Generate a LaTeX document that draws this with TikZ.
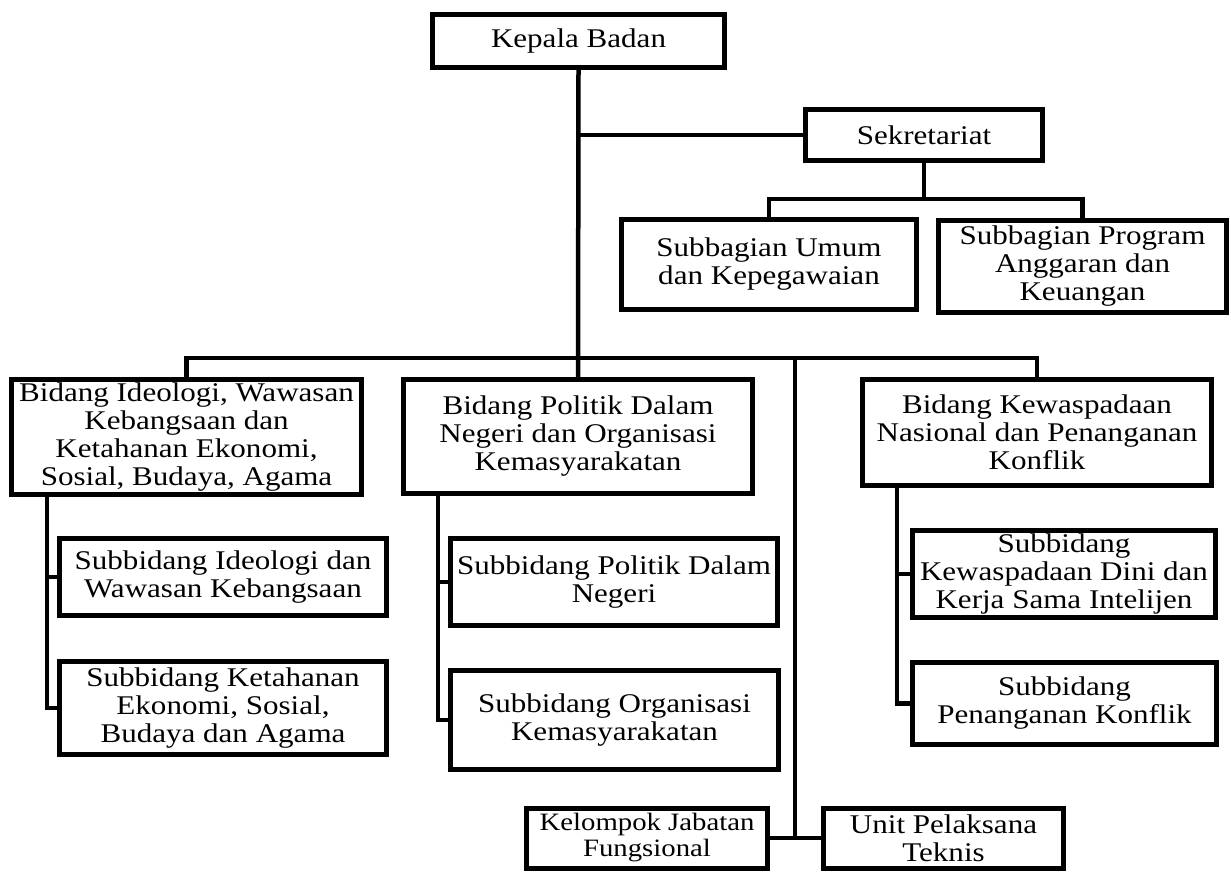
\documentclass[tikz,border=0pt]{standalone}
\usepackage{fontspec}
\setmainfont{Liberation Serif}[FakeStretch=1.15]
\begin{document}
\begin{tikzpicture}[x=1pt,y=-1pt,
  box/.style={draw, line width=5pt, align=center, inner sep=0pt, fill=white,
    font=\fontsize{27}{28}\selectfont},
  smallbox/.style={box, font=\fontsize{25}{26}\selectfont},
  conn/.style={line width=4.5pt}]
\useasboundingbox (0,0) rectangle (1231,876);
% nodes
\node[box, minimum width=292pt, minimum height=53pt] (kepala) at (578.5,41) {Kepala Badan};
\node[box, minimum width=237pt, minimum height=51pt] (sekr) at (924,135) {Sekretariat};
\node[box, minimum width=295pt, minimum height=90pt] (sumum) at (769,264.5) {Subbagian Umum\\dan Kepegawaian};
\node[box, minimum width=288pt, minimum height=92pt] (sprog) at (1082.5,266.5) {Subbagian Program\\Anggaran dan\\Keuangan};
\node[box, minimum width=350pt, minimum height=115pt] (bideo) at (186.5,437) {Bidang Ideologi, Wawasan\\Kebangsaan dan\\Ketahanan Ekonomi,\\Sosial, Budaya, Agama};
\node[box, minimum width=349pt, minimum height=114pt] (bpol) at (578,436.5) {Bidang Politik Dalam\\Negeri dan Organisasi\\Kemasyarakatan};
\node[box, minimum width=349pt, minimum height=106pt] (bkew) at (1037,432.5) {Bidang Kewaspadaan\\Nasional dan Penanganan\\Konflik};
\node[box, minimum width=327pt, minimum height=77pt] (sideo) at (223,577) {Subbidang Ideologi dan\\Wawasan Kebangsaan};
\node[box, minimum width=327pt, minimum height=93pt] (sketa) at (223,708) {Subbidang Ketahanan\\Ekonomi, Sosial,\\Budaya dan Agama};
\node[box, minimum width=327pt, minimum height=87pt] (spol) at (614,582) {Subbidang Politik Dalam\\Negeri};
\node[box, minimum width=328pt, minimum height=99pt] (sorg) at (614.5,720) {Subbidang Organisasi\\Kemasyarakatan};
\node[box, minimum width=303pt, minimum height=87pt] (skewd) at (1064,574) {Subbidang\\Kewaspadaan Dini dan\\Kerja Sama Intelijen};
\node[box, minimum width=304pt, minimum height=82pt] (spen) at (1064.5,703.5) {Subbidang\\Penanganan Konflik};
\node[smallbox, minimum width=241pt, minimum height=60pt] (kel) at (647,838) {Kelompok Jabatan\\Fungsional};
\node[box, minimum width=240pt, minimum height=60pt] (unit) at (943.5,838) {Unit Pelaksana\\Teknis};
% coordinates
\coordinate (busR) at (1037,358);
\coordinate (busM) at (795,358);
\coordinate (busB) at (795,838);
\coordinate (sekJ) at (924,199);
\coordinate (ideoT) at (47,496);
\coordinate (polT) at (438,496);
\coordinate (kewT) at (897,488);
% connectors
\draw[conn] (kepala.south) -- (bpol.north);
\draw[conn] (kepala.south |- sekr.west) -- (sekr.west);
\draw[conn] (sekr.south) -- (sekJ);
\draw[conn] (sumum.north) |- (sekJ) -| (sprog.north);
\draw[conn] (bideo.north) |- (busR) -- (bkew.north);
\draw[conn] (busM) -- (busB);
\draw[conn] (kel.east) -- (unit.west);
% sub-branches
\draw[conn] (ideoT) |- (sketa.west);
\draw[conn] (ideoT |- sideo.west) -- (sideo.west);
\draw[conn] (polT) |- (sorg.west);
\draw[conn] (polT |- spol.west) -- (spol.west);
\draw[conn] (kewT) |- (spen.west);
\draw[conn] (kewT |- skewd.west) -- (skewd.west);
\end{tikzpicture}
\end{document}
